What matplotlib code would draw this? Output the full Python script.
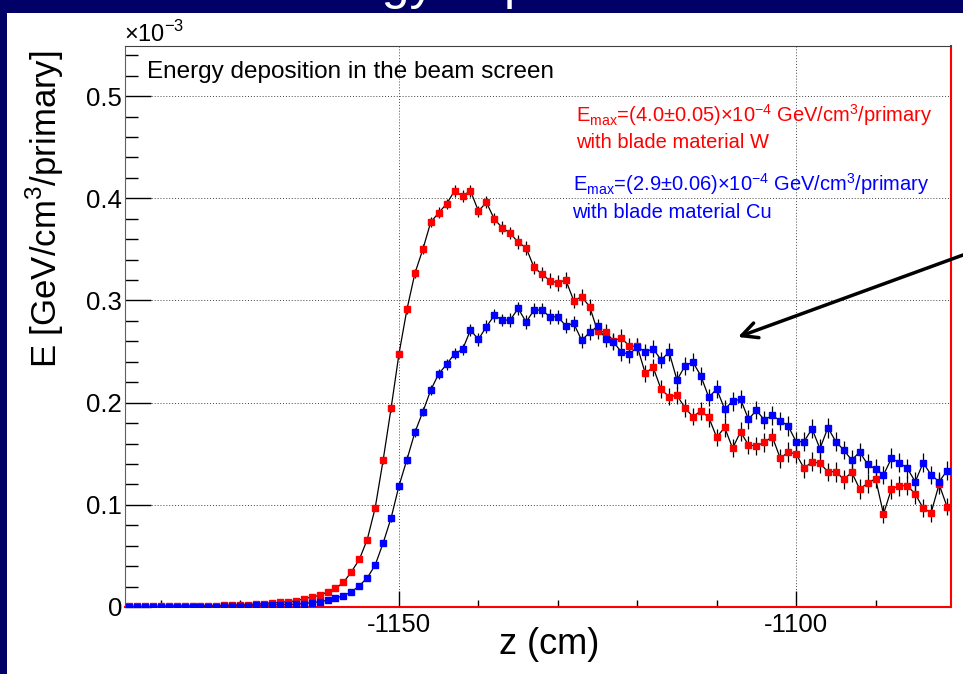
import numpy as np
import matplotlib
matplotlib.use('Agg')
import matplotlib.pyplot as plt
from matplotlib.patches import Rectangle
from matplotlib.ticker import MultipleLocator

plt.rcParams['font.family'] = ['Liberation Sans', 'DejaVu Sans']
plt.rcParams['mathtext.fontset'] = 'custom'
plt.rcParams['mathtext.rm'] = 'Liberation Sans'
plt.rcParams['axes.unicode_minus'] = False

# bin centres (cm), 1 cm bins
z_cm = np.arange(-1184, -1080)

# energy deposition, units of 1e-3 GeV/cm3/primary
e_W = ([0.0005] * 5 + [0.0013] * 7 +
       [0.0016, 0.002, 0.002, 0.0023, 0.003, 0.0033, 0.004, 0.0046, 0.0052, 0.0059,
        0.008, 0.0098, 0.0114, 0.0147, 0.0182, 0.024, 0.0344, 0.0465,
        0.066, 0.097, 0.1437, 0.1944, 0.2479, 0.2913,
        0.3265, 0.35, 0.3767, 0.3858, 0.3946, 0.4073, 0.4022, 0.4073, 0.3874, 0.396,
        0.3796, 0.3711, 0.366, 0.3568, 0.3516, 0.3323, 0.3258, 0.3193, 0.3173, 0.32,
        0.2997, 0.3036, 0.294, 0.27, 0.2692, 0.2606, 0.2633, 0.2553, 0.255, 0.2287,
        0.2345, 0.213, 0.2058, 0.2071, 0.195, 0.1862, 0.1918, 0.1856, 0.166, 0.1758,
        0.1553, 0.1714, 0.1585, 0.1576, 0.1611, 0.1667, 0.1455, 0.1517, 0.1497, 0.1357,
        0.1422, 0.1406, 0.1324, 0.1324, 0.1249, 0.1318, 0.1155, 0.121, 0.1256, 0.091,
        0.1155, 0.1187, 0.1187, 0.1106, 0.0966, 0.0923, 0.1201, 0.0982])

e_Cu = ([0.0002] * 5 + [0.0004] * 7 +
        [0.001, 0.001, 0.0013, 0.0013, 0.0016, 0.0016, 0.002, 0.0023, 0.0023, 0.0026,
         0.0033, 0.0043, 0.0052, 0.0066, 0.0085, 0.0112, 0.0147, 0.0208,
         0.0285, 0.041, 0.0626, 0.087, 0.1187, 0.1443,
         0.1709, 0.191, 0.2123, 0.2283, 0.2374, 0.248, 0.252, 0.271, 0.2619, 0.2743,
         0.2854, 0.2808, 0.2808, 0.2922, 0.2789, 0.2906, 0.2906, 0.284, 0.284, 0.2752,
         0.2775, 0.2609, 0.2687, 0.2746, 0.2625, 0.2595, 0.2494, 0.2472, 0.2547, 0.2495,
         0.2528, 0.2417, 0.2495, 0.2221, 0.2358, 0.2397, 0.2263, 0.2052, 0.2133, 0.1937,
         0.2012, 0.2035, 0.1837, 0.1925, 0.183, 0.1875, 0.1823, 0.1771, 0.1618, 0.1618,
         0.1745, 0.1549, 0.1755, 0.1618, 0.1536, 0.1438, 0.1517, 0.1396, 0.135, 0.1292,
         0.1455, 0.1412, 0.1357, 0.1226, 0.1412, 0.1292, 0.1226, 0.1334])

err_W = ([0.0003] * 22 +
         [0.0008, 0.0009, 0.001, 0.0012, 0.0013, 0.0015, 0.0018, 0.002,
          0.0025, 0.003, 0.0035, 0.004, 0.004, 0.0045,
          0.0045, 0.005, 0.005, 0.0055, 0.005, 0.0058, 0.0055, 0.006, 0.0055, 0.006,
          0.006, 0.0065, 0.0062, 0.0068, 0.007, 0.0065, 0.007, 0.0075, 0.008, 0.0078,
          0.0075, 0.008, 0.0078, 0.0082, 0.0075, 0.008, 0.0085, 0.008, 0.0082, 0.0085,
          0.008, 0.0088, 0.0085, 0.0082, 0.009, 0.0085, 0.0088, 0.009, 0.0085, 0.009,
          0.0088, 0.0092, 0.0085, 0.009, 0.0095, 0.0088, 0.009, 0.0095, 0.0092, 0.009,
          0.0095, 0.0092, 0.009, 0.0098, 0.0095, 0.0092, 0.0098, 0.0095, 0.009, 0.0085,
          0.0095, 0.0098, 0.0092, 0.0095, 0.009, 0.0088, 0.0098, 0.0085])

err_Cu = ([0.0003] * 22 +
          [0.0006, 0.0007, 0.0008, 0.0009, 0.001, 0.0012, 0.0014, 0.0017,
           0.002, 0.0025, 0.003, 0.0035, 0.004, 0.004,
           0.0045, 0.0045, 0.005, 0.005, 0.0055, 0.0055, 0.0058, 0.006, 0.006, 0.0062,
           0.0065, 0.0062, 0.0068, 0.0065, 0.007, 0.0068, 0.007, 0.0072, 0.007, 0.0075,
           0.0072, 0.0075, 0.0078, 0.0075, 0.008, 0.0078, 0.0082, 0.008, 0.0085, 0.008,
           0.0085, 0.0082, 0.0088, 0.0085, 0.0085, 0.009, 0.0088, 0.0085, 0.009, 0.0088,
           0.009, 0.0088, 0.0092, 0.009, 0.0088, 0.0092, 0.009, 0.0095, 0.0092, 0.009,
           0.0095, 0.0092, 0.0098, 0.0095, 0.009, 0.0095, 0.0092, 0.0098, 0.0095, 0.009,
           0.0098, 0.0095, 0.009, 0.0098, 0.0095, 0.009, 0.0092, 0.0095])

W, H = 963, 674


def fx(px):
    return px / W


def fy(py):
    return 1 - py / H


fig = plt.figure(figsize=(W / 100, H / 100), dpi=100)
fig.patch.set_facecolor('#000066')
fig.add_artist(Rectangle((fx(7), 0), 1 - fx(7), fy(13), transform=fig.transFigure,
                         facecolor='white', edgecolor='none', zorder=0))

# slide title, mostly cut off above the picture
fig.text(fx(276), 1 + 1 / H, 'Energy deposition', color='white', fontsize=36,
         ha='left', va='baseline')

ax = fig.add_axes([fx(125), fy(607), (951 - 125) / W, (607 - 46) / H])

for vals, errs, col in [(e_W, err_W, '#ff0000'), (e_Cu, err_Cu, '#0000ff')]:
    ax.plot(z_cm, vals, '-', color='black', lw=0.9, zorder=3)
    ax.errorbar(z_cm, vals, yerr=errs, fmt='none', ecolor='black', elinewidth=0.9,
                capsize=0, zorder=3)
    ax.plot(z_cm, vals, 's', color=col, mec=col, ms=4.5, zorder=4)

ax.set_xlim(-1184.5, -1080.5)
ax.set_ylim(0, 0.549)
ax.set_xticks([-1150, -1100])
ax.set_xticklabels(['-1150', '-1100'])
ax.xaxis.set_minor_locator(MultipleLocator(10))
ax.set_yticks([0, 0.1, 0.2, 0.3, 0.4, 0.5])
ax.set_yticklabels(['0', '0.1', '0.2', '0.3', '0.4', '0.5'])
ax.yaxis.set_minor_locator(MultipleLocator(0.02))

ax.tick_params(axis='x', which='major', direction='in', length=11.5, width=1,
               pad=4, labelsize=18.5, colors='black')
ax.tick_params(axis='x', which='minor', direction='in', length=5, width=1)
ax.tick_params(axis='y', which='major', direction='in', length=18.5, width=1,
               pad=2, labelsize=18.5)
ax.tick_params(axis='y', which='minor', direction='in', length=9.4, width=1)

ax.grid(True, which='major', ls=(0, (1, 2)), color='#444444', lw=0.7)
ax.set_axisbelow(True)

ax.spines['left'].set_color('#606060')
ax.spines['top'].set_color('#404040')
ax.spines['right'].set_color('#ff0000')
ax.spines['bottom'].set_color('#ff0000')
ax.spines['right'].set_linewidth(1.5)
ax.spines['bottom'].set_linewidth(1.5)

fig.text(fx(124), fy(42), '×10$^{-3}$', fontsize=17, ha='left', va='baseline')
fig.text(fx(45), fy(50), r'E [GeV/cm$^{3}$/primary]', fontsize=25, rotation=90,
         ha='center', va='top')
fig.text(fx(549), fy(645), 'z (cm)', fontsize=26, ha='center', va='center')

fig.text(fx(147), fy(78), 'Energy deposition in the beam screen', fontsize=17.5,
         ha='left', va='baseline')

fig.text(fx(576), fy(122), r'E$_{\rm max}$=(4.0±0.05)×10$^{-4}$ GeV/cm$^{3}$/primary',
         color='#ff0000', fontsize=14.5, ha='left', va='baseline')
fig.text(fx(576), fy(148), 'with blade material W', color='#ff0000',
         fontsize=14.5, ha='left', va='baseline')
fig.text(fx(573), fy(191), r'E$_{\rm max}$=(2.9±0.06)×10$^{-4}$ GeV/cm$^{3}$/primary',
         color='#0000ff', fontsize=14.5, ha='left', va='baseline')
fig.text(fx(572), fy(218), 'with blade material Cu', color='#0000ff',
         fontsize=14.5, ha='left', va='baseline')

ax.annotate('', xy=(fx(738), fy(337)), xycoords='figure fraction',
            xytext=(fx(963), fy(255)), textcoords='figure fraction',
            arrowprops=dict(arrowstyle='->', lw=2.5, color='black',
                            mutation_scale=28, shrinkA=0, shrinkB=0),
            annotation_clip=False)

fig.savefig('out.png', dpi=100, facecolor=fig.get_facecolor())
